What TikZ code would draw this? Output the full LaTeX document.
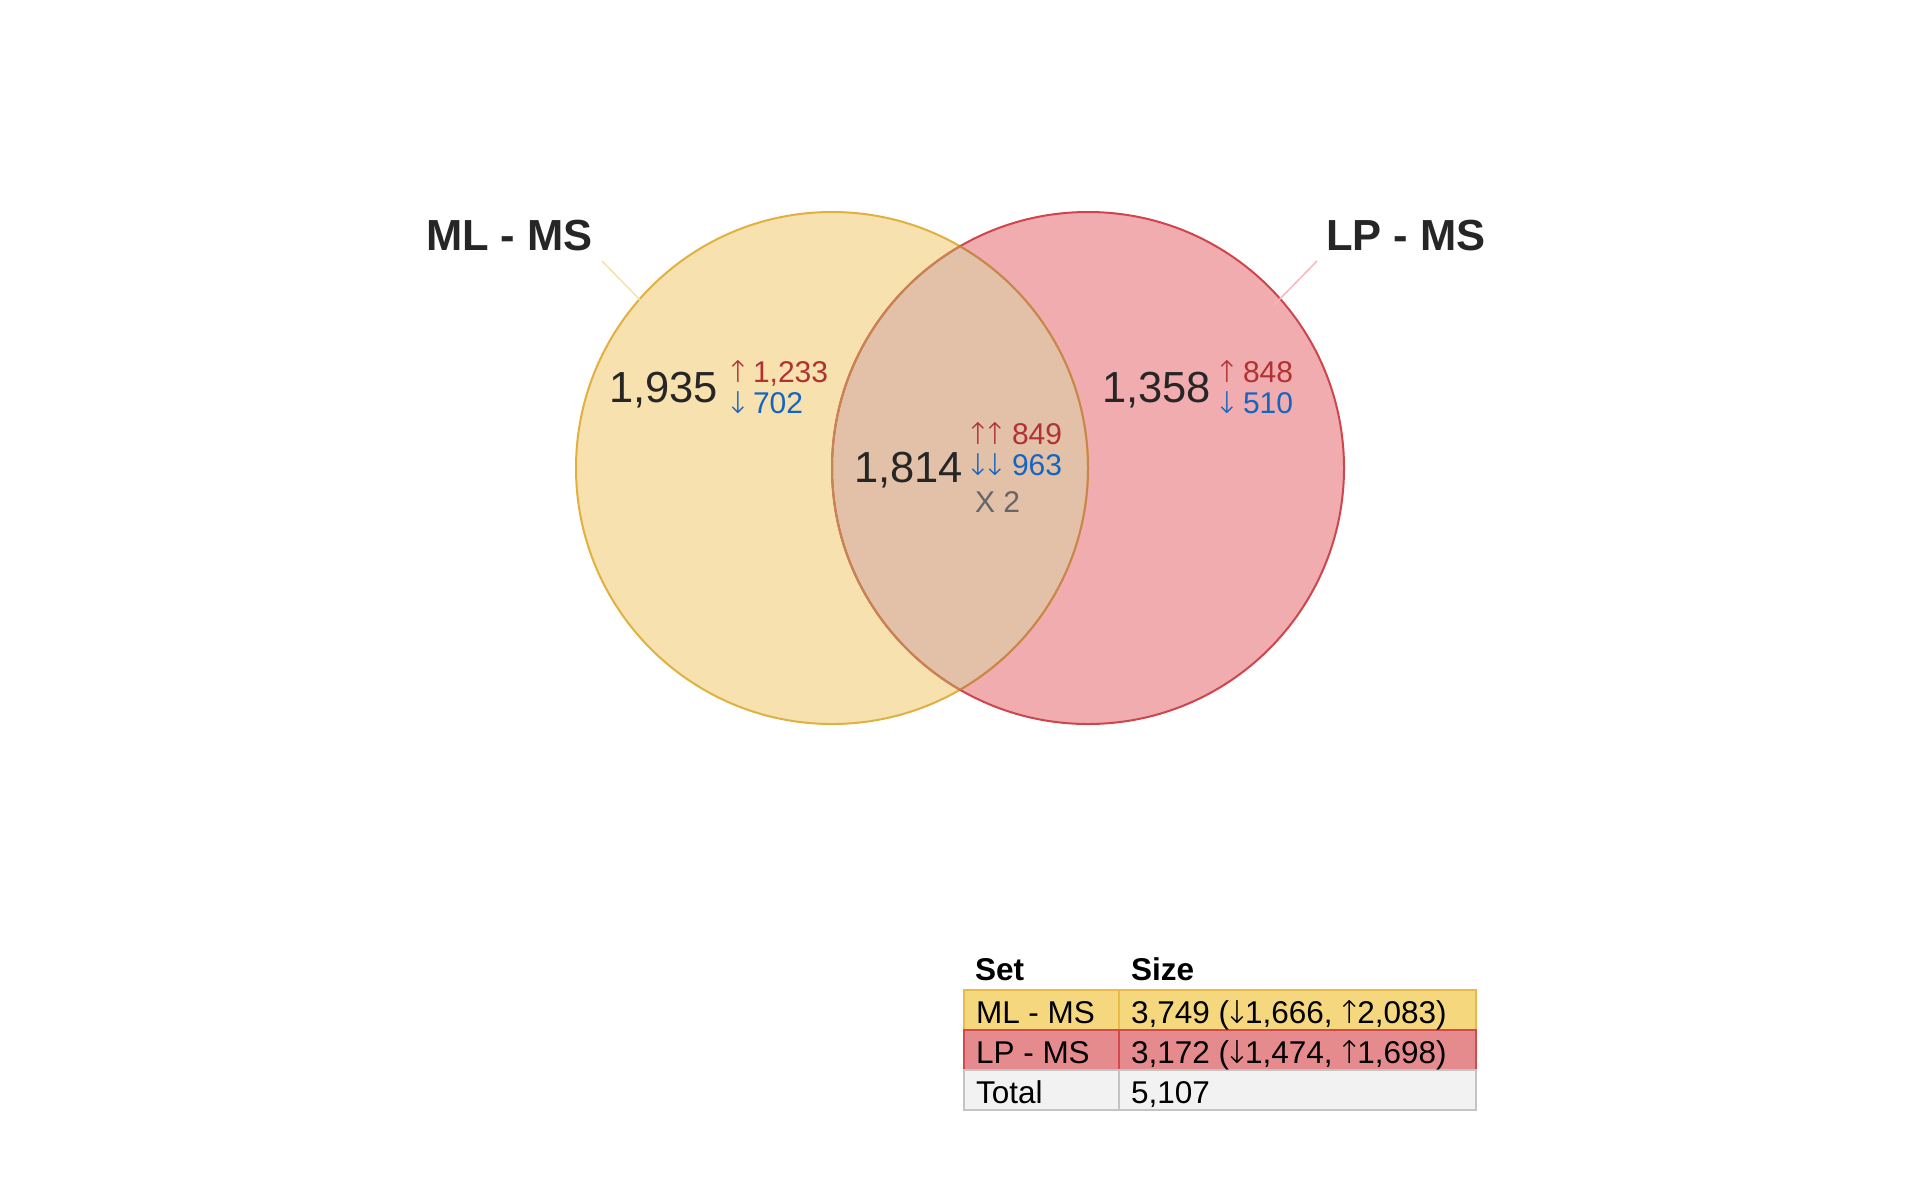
\documentclass[tikz,border=0pt]{standalone}
\usepackage{fontspec}
\setmainfont{Liberation Sans}
\newfontfamily\arrowfont{DejaVu Sans ExtraLight}
\usepackage{tikz}

\newcommand\tallup[1][10pt]{\makebox[#1]{\arrowfont ↑}}
\newcommand\talldown[1][10pt]{\makebox[#1]{\arrowfont ↓}}

\begin{document}
\begin{tikzpicture}[
  x=1pt, y=-1pt,
  every node/.style={
    inner sep=0pt,
    outer sep=0pt,
    anchor=base west,
  },
  setlabel/.style={font=\fontsize{43.5}{50}\selectfont\bfseries, text=darktext},
  bigcount/.style={font=\fontsize{43.5}{48}\selectfont, text=darktext},
  updown/.style={font=\fontsize{30}{31}\selectfont, align=left},
  factor/.style={font=\fontsize{30}{34}\selectfont, text=xgray},
  cell/.style={font=\fontsize{31.5}{34}\selectfont, text=black},
  headcell/.style={font=\fontsize{31.5}{34}\selectfont\bfseries, text=black},
  leader/.style={line width=1.5pt},
  rowbox/.style={line width=1.5pt},
]
  \definecolor{mlfill}{HTML}{F7E1AE}
  \definecolor{mlline}{HTML}{E0B040}
  \definecolor{lpfill}{HTML}{F0ACAF}
  \definecolor{lpline}{HTML}{D0454C}
  \definecolor{bothfill}{HTML}{E2C1A8}
  \definecolor{bothline}{HTML}{C88550}
  \definecolor{darktext}{HTML}{262626}
  \definecolor{upred}{HTML}{B03232}
  \definecolor{downblue}{HTML}{1565C0}
  \definecolor{xgray}{HTML}{666666}
  \definecolor{mlleader}{HTML}{F3E2B0}
  \definecolor{lpleader}{HTML}{F5B8BC}
  \definecolor{rowone}{HTML}{F5D77E}
  \definecolor{rowoneline}{HTML}{E8BA48}
  \definecolor{rowtwo}{HTML}{E58B8D}
  \definecolor{rowtwoline}{HTML}{D34A4E}
  \definecolor{rowthree}{HTML}{F2F2F2}
  \definecolor{rowthreeline}{HTML}{C4C4C4}

  \useasboundingbox (0,0) rectangle (1920,1186);

  % the two sets
  \coordinate (mlC) at (832,468);
  \coordinate (lpC) at (1088,468);
  \fill[mlfill] (mlC) circle (256pt);
  \fill[lpfill] (lpC) circle (256pt);
  \begin{scope}
    \clip (mlC) circle (256pt);
    \fill[bothfill] (lpC) circle (256pt);
  \end{scope}
  \draw[mlline, line width=2pt] (mlC) circle (256pt);
  \draw[lpline, line width=2pt] (lpC) circle (256pt);
  \begin{scope}
    \clip (mlC) circle (256pt);
    \draw[bothline, line width=2pt] (lpC) circle (256pt);
  \end{scope}
  \begin{scope}
    \clip (lpC) circle (256pt);
    \draw[bothline, line width=2pt] (mlC) circle (256pt);
  \end{scope}

  % set names
  \node[setlabel] (mlLabel) at (426,250) {ML - MS};
  \node[setlabel] (lpLabel) at (1326,250) {LP - MS};
  \coordinate (mlTip) at (602,261);
  \coordinate (mlEnd) at (646,306);
  \coordinate (lpTip) at (1317,261);
  \coordinate (lpEnd) at (1274,305);
  \draw[leader, mlleader] (mlTip) -- (mlEnd);
  \draw[leader, lpleader] (lpTip) -- (lpEnd);

  % ML only
  \node[bigcount] (mlOnly) at (609,402) {1,935};
  \node[updown] (mlSplit) at (733,413)
    {{\color{upred}\makebox[20pt][l]{\tallup}1,233}\\
     {\color{downblue}\makebox[20pt][l]{\talldown}702}};

  % both
  \node[bigcount] (both) at (854,482) {1,814};
  \node[updown] (bothSplit) at (973,475)
    {{\color{upred}\makebox[39pt][l]{\tallup\hspace{7pt}\tallup}849}\\
     {\color{downblue}\makebox[39pt][l]{\talldown\hspace{7pt}\talldown}963}};
  \node[factor] (bothFactor) at (975,512) {X 2};

  % LP only
  \node[bigcount] (lpOnly) at (1102,402) {1,358};
  \node[updown] (lpSplit) at (1222,413)
    {{\color{upred}\makebox[21pt][l]{\tallup}848}\\
     {\color{downblue}\makebox[21pt][l]{\talldown}510}};

  % size table
  \filldraw[rowbox, fill=rowone, draw=rowoneline] (964,990) rectangle (1119,1030);
  \filldraw[rowbox, fill=rowone, draw=rowoneline] (1119,990) rectangle (1476,1030);
  \filldraw[rowbox, fill=rowtwo, draw=rowtwoline] (964,1030) rectangle (1119,1070);
  \filldraw[rowbox, fill=rowtwo, draw=rowtwoline] (1119,1030) rectangle (1476,1070);
  \filldraw[rowbox, fill=rowthree, draw=rowthreeline] (964,1070) rectangle (1119,1110);
  \filldraw[rowbox, fill=rowthree, draw=rowthreeline] (1119,1070) rectangle (1476,1110);

  \node[headcell] (setHead) at (975,980) {Set};
  \node[headcell] (sizeHead) at (1131,980) {Size};
  \node[cell] (mlName) at (976,1023) {ML - MS};
  \node[cell] (mlSize) at (1131,1023) {3,749 (\talldown[16pt]1,666, \tallup[16pt]2,083)};
  \node[cell] (lpName) at (976,1063) {LP - MS};
  \node[cell] (lpSize) at (1131,1063) {3,172 (\talldown[16pt]1,474, \tallup[16pt]1,698)};
  \node[cell] (totalName) at (976,1103) {Total};
  \node[cell] (totalSize) at (1131,1103) {5,107};
\end{tikzpicture}
\end{document}
